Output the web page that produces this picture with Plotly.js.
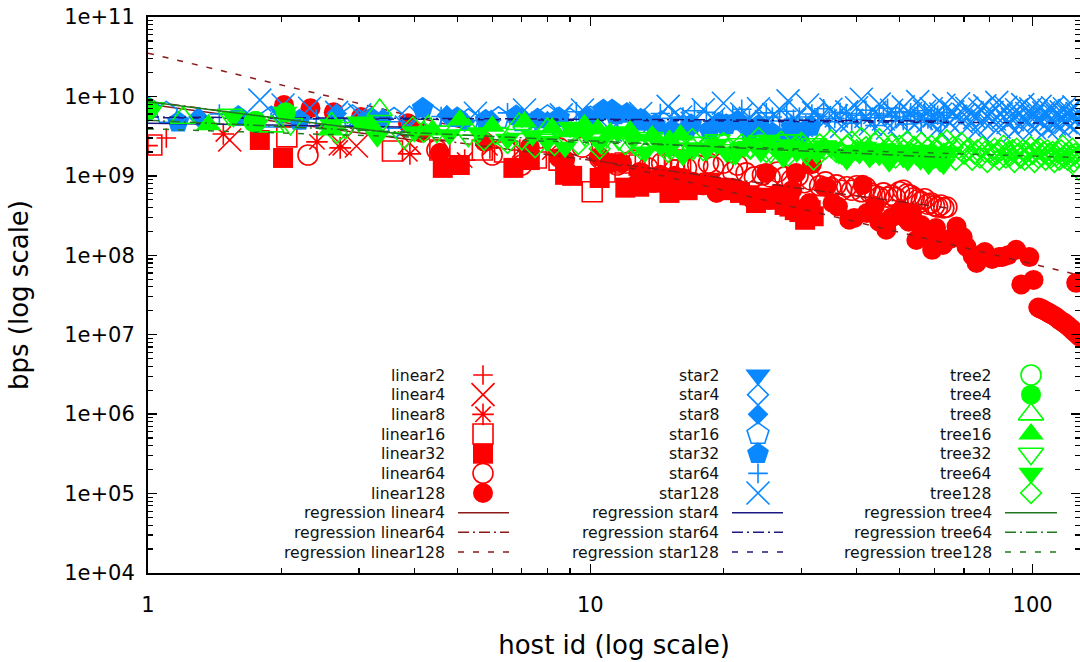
<!DOCTYPE html>
<html><head><meta charset="utf-8">
<script src="https://cdn.plot.ly/plotly-3.0.1.min.js"></script>
<style>html,body{margin:0;padding:0;background:#fff}#chart{width:1080px;height:662px}</style>
</head><body><div id="chart"></div>
<script>
// ---------------- data (host id, bps) ----------------
const linear2_x = [1.0, 1.1];
const linear2_y = [2.4e9, 3.0e9];
const linear4_x = [1.53, 2.72, 2.96, 3.9];
const linear4_y = [2.83e9, 2.52e9, 2.38e9, 2.6e9];
const linear8_x = [1.48, 2.41, 2.72, 3.91, 5.2, 5.93, 6.93, 8.1];
const linear8_y = [3.37e9, 2.68e9, 2.25e9, 1.89e9, 1.58e9, 2.25e9, 2.12e9, 2.0e9];
const linear16_x = [1.02, 2.06, 3.57, 4.57, 5.7, 6.4, 7.55, 8.5, 10.1, 10.8, 12, 12.9, 14, 15, 15.5, 16];
const linear16_y = [2.45e9, 3.1e9, 2.06e9, 2.12e9, 2.12e9, 2.0e9, 1.68e9, 1.58e9, 6.3e8, 1.12e9, 1.45e9, 1.37e9, 1.68e9, 1.37e9, 1.58e9, 1.19e9];
const linear32_x = [1.79, 2.02, 4.64, 5.07, 6.7, 7.3, 8.77, 9.1, 10.5, 12, 12.9, 13.4, 14.4, 15.1, 16.6, 17.7, 18.6, 19.6, 20.7, 21.8, 22.9, 23.7, 25, 26, 27.5, 28.2, 29, 29.7, 30.6, 31, 31.5, 32];
const linear32_y = [2.83e9, 1.68e9, 1.26e9, 1.37e9, 1.26e9, 1.58e9, 1.03e9, 1.0e9, 9.4e8, 7.1e8, 7.3e8, 8.2e8, 8.2e8, 6.1e8, 6.6e8, 7.7e8, 8.2e8, 7.1e8, 6.6e8, 6.1e8, 5.7e8, 4.55e8, 5.3e8, 5.0e8, 4.3e8, 4.1e8, 3.7e8, 3.5e8, 2.8e8, 3.3e8, 3.7e8, 3.1e8];
const linear64_x = [2.3, 4.5, 6.0, 7.0, 8.5, 9.6, 10.5, 11.5, 12.5, 13.5, 14.5, 15.5, 16.5, 17.5, 18.5, 19, 20, 21, 21.5, 22.5, 23.5, 24.5, 25.5, 26.5, 27.5, 28.5, 29.5, 30.5, 31.5, 33, 34, 35, 36, 37, 38, 39, 40, 41, 42, 43, 44, 45, 46, 47, 48, 49, 50, 51, 52, 53, 54, 55, 56, 57, 58, 59, 60, 61, 62, 63, 64];
const linear64_y = [1.83e9, 2.12e9, 1.83e9, 1.37e9, 2.25e9, 2.3e9, 1.68e9, 1.37e9, 1.58e9, 1.26e9, 1.45e9, 1.19e9, 1.26e9, 1.37e9, 1.45e9, 1.3e9, 1.45e9, 1.12e9, 1.37e9, 1.09e9, 9.7e8, 1.03e9, 9.7e8, 1.12e9, 9.7e8, 8.9e8, 1.0e9, 8.2e8, 8.9e8, 7.5e8, 8.4e8, 7.1e8, 7.7e8, 6.6e8, 7.3e8, 6.6e8, 7.5e8, 6.3e8, 7.1e8, 6.1e8, 5.7e8, 5.4e8, 6.1e8, 5.4e8, 5.7e8, 5.3e8, 6.3e8, 6.6e8, 5.9e8, 5.7e8, 5.3e8, 5.0e8, 4.7e8, 5.15e8, 4.4e8, 4.55e8, 4.2e8, 4.05e8, 4.3e8, 3.95e8, 4.05e8];
const linear128_x = [2.03, 2.33, 2.63, 3.03, 3.87, 4.15, 4.57, 5.77, 7.3, 8.5, 8.77, 10.5, 10.9, 11.2, 11.8, 12.9, 13.1, 14.4, 15.5, 16.2, 17.1, 18.0, 19.3, 20.9, 21.8, 22.5, 23.3, 24.2, 25.0, 25.4, 26.5, 27.5, 28.6, 29.2, 30.9, 31.3, 31.7, 33.8, 34.2, 35.3, 36.3, 38.5, 39.5, 41.3, 42.2, 44.0, 45.0, 46.7, 48.0, 50.0, 51.6, 52.5, 53.4, 54.6, 56.0, 57.4, 58.4, 59.3, 60.5, 62.7, 65.0, 67.3, 69.5, 70.9, 73.2, 74.7, 75.8, 78.0, 81.0, 84.1, 85.3, 88.0, 91.8, 94.3, 98.3, 100.5, 125.5,
  103, 104, 105, 106, 107, 108, 109, 110, 111, 112, 113, 114, 115, 116, 117, 118, 119, 120, 121, 122, 123, 124, 125, 126, 127, 128];
const linear128_y = [7.8e9, 7.1e9, 6.3e9, 5.5e9, 4.6e9, 3.5e9, 1.95e9, 2.68e9, 2.3e9, 1.68e9, 1.58e9, 1.73e9, 1.45e9, 1.45e9, 1.45e9, 1.12e9, 1.09e9, 1.03e9, 1.0e9, 9.4e8, 8.4e8, 7.6e8, 6.1e8, 7.1e8, 6.6e8, 5.6e8, 5.0e8, 5.3e8, 1.09e9, 5.0e8, 6.0e8, 5.0e8, 6.6e8, 1.09e9, 4.1e8, 4.55e8, 1.4e9, 7.3e8, 7.3e8, 4.55e8, 4.1e8, 2.8e8, 2.95e8, 7.7e8, 3.4e8, 4.2e8, 2.65e8, 2.1e8, 3.0e8, 3.5e8, 2.95e8, 2.65e8, 3.4e8, 1.56e8, 2.4e8, 1.9e8, 1.7e8, 1.17e8, 2.2e8, 1.35e8, 1.6e8, 2.3e8, 1.7e8, 1.28e8, 9.8e7, 8.0e7, 1.0e8, 1.1e8, 9.0e7, 9.5e7, 9.5e7, 1.0e8, 1.17e8, 4.3e7, 9.5e7, 4.9e7, 4.5e7,
  2.2e7, 2.15e7, 2.1e7, 2.04e7, 1.98e7, 1.93e7, 1.87e7, 1.82e7, 1.77e7, 1.72e7, 1.67e7, 1.6e7, 1.53e7, 1.49e7, 1.45e7, 1.4e7, 1.35e7, 1.3e7, 1.25e7, 1.2e7, 1.15e7, 1.1e7, 1.06e7, 1.02e7, 9.8e6, 9.4e6];

const star2_x = [1.0, 2.0];
const star2_y = [7.1e9, 6.3e9];
const star4_x = [1.0, 2.0, 3.0, 3.9];
const star4_y = [6.6e9, 6.0e9, 5.0e9, 5.6e9];
const star8_x = [1.3, 2.67, 3.4, 4.74, 5.2, 5.97, 7.0, 8.0];
const star8_y = [5.5e9, 6.1e9, 5.3e9, 5.8e9, 4.8e9, 5.05e9, 5.4e9, 4.9e9];
const star16_x = [1.1, 1.9, 2.9, 3.6, 4.4, 5.3, 6.2, 7.0, 8.0, 9.0, 10.0, 11.0, 12.0, 13.0, 14.5, 16.0];
const star16_y = [6.2e9, 5.4e9, 5.6e9, 5.2e9, 5.5e9, 5.0e9, 5.3e9, 4.9e9, 5.6e9, 5.1e9, 5.4e9, 4.8e9, 5.2e9, 5.0e9, 4.7e9, 5.1e9];
const star32_x = [1.0, 1.17, 1.6, 2.2, 3.2, 4.18, 5.0, 5.8, 6.8, 7.6, 8.5, 9.85, 10.7, 11.2, 11.4, 12.1, 13.0, 14.0, 15.3, 16.5, 16.9, 18.6, 19.5, 20.3, 21.5, 22.9, 24.0, 25.8, 27.3, 28.5, 29.7, 31.5];
const star32_y = [7.3e9, 4.75e9, 5.6e9, 5.0e9, 5.3e9, 7.1e9, 5.4e9, 5.0e9, 5.7e9, 5.2e9, 5.4e9, 5.5e9, 6.75e9, 6.75e9, 5.85e9, 6.1e9, 4.9e9, 4.4e9, 3.78e9, 3.78e9, 4.4e9, 3.78e9, 4.6e9, 4.4e9, 4.9e9, 3.78e9, 4.3e9, 3.47e9, 2.83e9, 4.0e9, 3.1e9, 4.2e9];
const star64_x = [1.45, 2.4, 3.5, 4.6, 5.6, 6.5, 7.5, 8.4, 9.3, 10.3, 11.3, 12.3, 13.3, 14.4, 15.3, 16.2, 17.2, 18.3, 19.1, 19.9, 21, 22, 22.9, 24, 25, 25.8, 26.8, 27.8, 28.8, 29.7, 30.7, 31.7, 32.7, 33.7, 34.7, 35.7, 36.7, 37.9, 39, 40, 41, 42, 43, 44, 45, 46, 47, 48, 49, 50, 51, 52, 53, 54, 55, 56, 57, 58, 59, 60, 61, 62, 63, 64];
const star64_y = [6.0e9, 5.2e9, 4.8e9, 5.6e9, 5.0e9, 6.2e9, 4.6e9, 5.5e9, 6.4e9, 5.1e9, 6.8e9, 5.9e9, 4.9e9, 6.1e9, 5.3e9, 5.5e9, 6.6e9, 6.3e9, 4.7e9, 5.05e9, 5.8e9, 6.9e9, 5.05e9, 4.5e9, 6.2e9, 5.5e9, 4.9e9, 6.5e9, 5.2e9, 5.5e9, 4.4e9, 6.0e9, 5.6e9, 7.0e9, 4.8e9, 5.3e9, 6.3e9, 6.1e9, 4.6e9, 5.8e9, 5.1e9, 6.7e9, 5.4e9, 4.3e9, 6.0e9, 5.7e9, 7.1e9, 4.9e9, 5.5e9, 6.4e9, 5.0e9, 4.5e9, 6.2e9, 5.6e9, 5.9e9, 4.7e9, 6.6e9, 5.2e9, 5.0e9, 6.1e9, 5.8e9, 4.6e9, 6.3e9, 5.4e9];
const star128_x = [1.79, 2.02, 2.32, 2.67, 3.01, 3.84, 5.5, 7.1, 7.8, 8.6, 9.6, 11.1,
  13, 14, 15, 16, 17, 18, 19, 20, 21, 22, 23, 24, 25, 26, 27, 28, 29, 30, 31, 32,
  33, 34, 35, 36, 37, 38, 39, 40, 41, 42, 43, 44, 45, 46, 47, 48, 49, 50, 51, 52,
  53, 54, 55, 56, 57, 58, 59, 60, 61, 62, 63, 64, 65, 66, 67, 68, 69, 70, 71, 72,
  73, 74, 75, 76, 77, 78, 79, 80, 81, 82, 83, 84, 85, 86, 87, 88, 89, 90, 91, 92,
  93, 94, 95, 96, 97, 98, 99, 100, 101, 102, 103, 104, 105, 106, 107, 108, 109, 110, 111, 112,
  113, 114, 115, 116, 117, 118, 119, 120, 121, 122, 123, 124, 125, 126, 127, 128];
const star128_y = [9.0e9, 7.8e9, 7.1e9, 6.3e9, 5.85e9, 4.1e9, 6.15e9, 6.75e9, 4.6e9, 5.85e9, 6.75e9, 3.78e9,
  6.1e9, 5.0e9, 7.5e9, 5.5e9, 4.6e9, 6.8e9, 5.2e9, 8.2e9, 4.4e9, 6.0e9, 5.3e9, 7.0e9, 4.8e9, 5.9e9, 6.6e9, 8.8e9, 5.1e9, 4.3e9, 7.8e9, 6.2e9,
  5.4e9, 4.9e9, 6.9e9, 5.7e9, 4.2e9, 6.4e9, 5.0e9, 7.2e9, 9.2e9, 5.6e9, 4.5e9, 6.3e9, 8.0e9, 5.2e9, 4.0e9, 6.7e9, 5.8e9, 4.7e9, 7.4e9, 5.5e9,
  6.1e9, 4.4e9, 8.6e9, 5.3e9, 6.5e9, 4.9e9, 7.0e9, 5.7e9, 3.9e9, 6.0e9, 7.7e9, 5.1e9, 4.6e9, 6.4e9, 5.6e9, 8.1e9, 4.8e9, 5.9e9, 7.1e9, 4.3e9,
  6.2e9, 5.4e9, 3.8e9, 6.9e9, 5.0e9, 7.6e9, 5.7e9, 4.5e9, 6.3e9, 5.2e9, 8.4e9, 4.1e9, 6.0e9, 5.5e9, 7.3e9, 4.7e9, 6.6e9, 5.1e9, 3.7e9, 6.8e9,
  5.8e9, 4.4e9, 7.9e9, 5.3e9, 6.1e9, 4.6e9, 7.0e9, 5.6e9, 4.0e9, 6.5e9, 5.0e9, 7.5e9, 4.8e9, 6.2e9, 5.4e9, 3.9e9, 6.7e9, 5.2e9, 7.2e9, 4.5e9,
  6.0e9, 5.7e9, 4.2e9, 6.4e9, 5.1e9, 7.0e9, 4.7e9, 5.9e9, 6.6e9, 4.3e9, 5.5e9, 7.4e9, 4.9e9, 6.1e9, 5.3e9, 4.6e9];

const tree2_x = [1.0, 1.75];
const tree2_y = [7.0e9, 4.8e9];
const tree4_x = [1.0, 1.73, 1.75, 2.05];
const tree4_y = [7.0e9, 4.75e9, 4.9e9, 6.3e9];
const tree8_x = [1.2, 1.9, 2.6, 3.34, 4.3, 5.3, 6.9, 8.0];
const tree8_y = [5.4e9, 4.2e9, 4.6e9, 6.75e9, 4.2e9, 3.8e9, 4.5e9, 3.9e9];
const tree16_x = [1.37, 2.58, 3.2, 4.4, 5.07, 6.0, 7.1, 8.2, 9.0, 9.7, 10.4, 11.1, 12.3, 13.8, 15.1, 16];
const tree16_y = [4.4e9, 3.78e9, 4.3e9, 3.78e9, 5.05e9, 4.2e9, 4.75e9, 4.0e9, 3.6e9, 4.4e9, 3.9e9, 3.47e9, 3.7e9, 3.18e9, 2.83e9, 3.27e9];
const tree32_x = [1.02, 1.53, 2.1, 2.8, 3.3, 3.8, 4.5, 5.3, 6.1, 7.0, 7.9, 8.8, 9.7, 10.6, 11.6, 12.6, 13.7, 14.8, 15.9, 17.0, 18.2, 19.4, 20.6, 21.8, 23.0, 24.3, 25.6, 26.9, 28.2, 29.5, 30.8, 32];
const tree32_y = [7.1e9, 5.85e9, 4.5e9, 4.0e9, 4.1e9, 3.0e9, 3.6e9, 3.2e9, 3.4e9, 2.9e9, 3.1e9, 2.7e9, 3.3e9, 2.6e9, 2.9e9, 2.5e9, 3.0e9, 2.4e9, 2.7e9, 2.2e9, 2.6e9, 2.8e9, 2.1e9, 2.5e9, 2.3e9, 2.7e9, 2.0e9, 2.4e9, 2.8e9, 2.2e9, 1.9e9, 2.5e9];
const tree64_x = [1.0, 1.56, 2.04, 2.6, 3.0, 3.3, 4.0, 4.8, 5.6, 6.5, 7.4, 8.0, 8.77, 9.0, 9.8, 10.5, 11.5, 12.5, 13.3, 14.4, 15.1, 16.2, 17.2, 18.3, 19.3, 20.3, 21.3, 22.3, 23.3, 24.3, 25.3, 26.3, 27.3, 28.3, 29.3, 30.3, 31.3, 32.5, 33.8, 35, 36.5, 38, 39.5, 40.6, 41.7, 42.8, 43.9, 45, 46.2, 47.4, 48.6, 49.8, 51, 52.2, 53.4, 54.6, 55.8, 57, 58.2, 59.4, 60.6, 61.8, 62.9, 64];
const tree64_y = [6.5e9, 5.5e9, 6.3e9, 4.4e9, 4.75e9, 3.1e9, 3.6e9, 3.3e9, 3.5e9, 2.9e9, 3.2e9, 2.7e9, 2.3e9, 4.1e9, 3.5e9, 2.6e9, 3.6e9, 2.9e9, 2.0e9, 2.4e9, 2.2e9, 1.8e9, 2.2e9, 2.1e9, 2.5e9, 2.0e9, 1.85e9, 2.3e9, 2.6e9, 2.0e9, 2.8e9, 2.3e9, 1.7e9, 2.4e9, 2.0e9, 2.2e9, 2.1e9, 1.9e9, 2.4e9, 2.25e9, 1.9e9, 1.6e9, 2.1e9, 1.9e9, 2.3e9, 1.7e9, 2.0e9, 1.8e9, 2.2e9, 1.5e9, 1.9e9, 2.1e9, 1.7e9, 1.55e9, 2.0e9, 1.8e9, 1.6e9, 2.1e9, 1.4e9, 1.9e9, 1.7e9, 1.5e9, 1.4e9, 2.0e9];
const tree128_x = [2.67, 3.97, 4.2, 5.75, 6.5, 7.5, 8.3, 9.4, 10.5,
  12, 13, 14, 15, 16, 17, 18, 19, 20, 21, 22, 23, 24, 25, 26, 27, 28, 29, 30, 31,
  32, 33, 34, 35, 36, 37, 38, 39, 40, 41, 42, 43, 44, 45, 46, 47, 48, 49, 50, 51,
  52, 53, 54, 55, 56, 57, 58, 59, 60, 61, 62, 63, 64, 65, 66, 67, 68, 69, 70, 71,
  72, 73, 74, 75, 76, 77, 78, 79, 80, 81, 82, 83, 84, 85, 86, 87, 88, 89, 90, 91,
  92, 93, 94, 95, 96, 97, 98, 99, 100, 101, 102, 103, 104, 105, 106, 107, 108, 109, 110, 111,
  112, 113, 114, 115, 116, 117, 118, 119, 120, 121, 122, 123, 124, 125, 126, 127, 128];
const tree128_y = [3.47e9, 4.1e9, 3.57e9, 2.83e9, 2.6e9, 2.3e9, 2.45e9, 2.52e9, 2.2e9,
  2.5e9, 2.2e9, 2.8e9, 2.0e9, 2.4e9, 2.9e9, 2.1e9, 2.3e9, 2.6e9, 1.9e9, 2.5e9, 2.2e9, 3.0e9, 2.0e9, 2.4e9, 2.7e9, 1.8e9, 2.3e9, 2.6e9, 2.1e9,
  1.6e9, 2.5e9, 2.2e9, 2.8e9, 2.0e9, 1.9e9, 2.4e9, 2.7e9, 2.1e9, 3.0e9, 2.3e9, 1.8e9, 2.6e9, 2.9e9, 2.0e9, 2.2e9, 2.5e9, 1.7e9, 2.4e9, 2.1e9,
  2.7e9, 1.9e9, 2.3e9, 2.0e9, 2.6e9, 1.8e9, 2.2e9, 2.4e9, 1.7e9, 2.1e9, 2.5e9, 1.9e9, 2.8e9, 2.0e9, 2.3e9, 1.6e9, 2.2e9, 2.6e9, 1.9e9, 2.1e9,
  2.2e9, 1.6e9, 1.9e9, 2.1e9, 1.7e9, 2.3e9, 2.0e9, 1.5e9, 2.0e9, 1.8e9, 2.2e9, 1.9e9, 1.6e9, 2.1e9, 2.4e9, 1.7e9, 2.0e9, 1.8e9, 2.1e9, 1.5e9,
  2.2e9, 1.9e9, 1.7e9, 2.1e9, 1.6e9, 2.0e9, 1.8e9, 2.3e9, 1.9e9, 1.5e9, 2.1e9, 1.7e9, 2.2e9, 1.8e9, 2.0e9, 1.6e9, 2.1e9, 1.9e9, 1.7e9, 2.0e9,
  1.5e9, 1.8e9, 2.0e9, 1.6e9, 2.1e9, 2.4e9, 1.7e9, 1.9e9, 1.6e9, 2.0e9, 1.8e9, 2.2e9, 1.5e9, 1.9e9, 1.7e9, 1.2e9, 1.8e9];

// regression fits (end points of each fitted power law over its host range)
const regLinear4_x = [1, 4],    regLinear4_y = [8.0e9, 2.8e9];
const regLinear64_x = [1, 64],  regLinear64_y = [8.7e9, 3.95e8];
const regLinear128_x = [1, 128], regLinear128_y = [3.5e10, 5.6e7];
const regStar4_x = [1, 4],      regStar4_y = [4.6e9, 4.1e9];
const regStar64_x = [1, 64],    regStar64_y = [5.5e9, 4.9e9];
const regStar128_x = [1, 128],  regStar128_y = [5.4e9, 4.6e9];
const regTree4_x = [1, 4],      regTree4_y = [8.6e9, 3.2e9];
const regTree64_x = [1, 64],    regTree64_y = [5.0e9, 1.7e9];
const regTree128_x = [1, 128],  regTree128_y = [3.9e9, 1.7e9];

const xTickVals = [1, 10, 100];
const xTickText = ['1', '10', '100'];
const yTickVals = [1e4, 1e5, 1e6, 1e7, 1e8, 1e9, 1e10, 1e11];
const yTickText = ['1e+04', '1e+05', '1e+06', '1e+07', '1e+08', '1e+09', '1e+10', '1e+11'];

// ---------------- styles ----------------
const FONT = 'DejaVu Sans, sans-serif';
const RED = '#ff0000', BLUE = '#0a88ff', GREEN = '#00ff00';
const DRED = '#8b1a1a', DBLUE = '#1a1a80', DGREEN = '#1f7a1f';
const DASH_SOLID = 'solid', DASH_DOT = '11px,4px,2px,4px', DASH_DASH = '6px,9px';

const groups = [
  { color: RED, reg: DRED, markers: [
      ['linear2', linear2_x, linear2_y, 'cross-thin-open', 14],
      ['linear4', linear4_x, linear4_y, 'x-thin-open', 23],
      ['linear8', linear8_x, linear8_y, 'asterisk-open', 18],
      ['linear16', linear16_x, linear16_y, 'square-open', 20],
      ['linear32', linear32_x, linear32_y, 'square', 20],
      ['linear64', linear64_x, linear64_y, 'circle-open', 20],
      ['linear128', linear128_x, linear128_y, 'circle', 20]],
    regs: [
      ['regression linear4', regLinear4_x, regLinear4_y, DASH_SOLID],
      ['regression linear64', regLinear64_x, regLinear64_y, DASH_DOT],
      ['regression linear128', regLinear128_x, regLinear128_y, DASH_DASH]] },
  { color: BLUE, reg: DBLUE, markers: [
      ['star2', star2_x, star2_y, 'triangle-down', 22],
      ['star4', star4_x, star4_y, 'diamond-open', 16],
      ['star8', star8_x, star8_y, 'diamond', 16],
      ['star16', star16_x, star16_y, 'pentagon-open', 23],
      ['star32', star32_x, star32_y, 'pentagon', 23],
      ['star64', star64_x, star64_y, 'cross-thin-open', 14],
      ['star128', star128_x, star128_y, 'x-thin-open', 23]],
    regs: [
      ['regression star4', regStar4_x, regStar4_y, DASH_SOLID],
      ['regression star64', regStar64_x, regStar64_y, DASH_DOT],
      ['regression star128', regStar128_x, regStar128_y, DASH_DASH]] },
  { color: GREEN, reg: DGREEN, markers: [
      ['tree2', tree2_x, tree2_y, 'circle-open', 20],
      ['tree4', tree4_x, tree4_y, 'circle', 20],
      ['tree8', tree8_x, tree8_y, 'triangle-up-open', 22],
      ['tree16', tree16_x, tree16_y, 'triangle-up', 22],
      ['tree32', tree32_x, tree32_y, 'triangle-down-open', 22],
      ['tree64', tree64_x, tree64_y, 'triangle-down', 22],
      ['tree128', tree128_x, tree128_y, 'diamond-open', 16]],
    regs: [
      ['regression tree4', regTree4_x, regTree4_y, DASH_SOLID],
      ['regression tree64', regTree64_x, regTree64_y, DASH_DOT],
      ['regression tree128', regTree128_x, regTree128_y, DASH_DASH]] }
];

// key layout (pixel frame of the plot area)
const KEY = { row0: 375, rowStep: 19.67, textRight: [447, 721, 994], sym: [483, 758, 1031], line0: [458, 732, 1005], line1: [509, 783, 1057] };

function isOpen(sym) { return /open/.test(sym); }

const traces = [];
const annotations = [];
groups.forEach((g, c) => {
  g.markers.forEach(m => {
    const open = isOpen(m[3]);
    traces.push({ type: 'scatter', mode: 'markers', name: m[0], x: m[1], y: m[2], hoverinfo: 'skip',
      marker: { symbol: m[3], size: m[4], color: g.color, line: { color: g.color, width: open ? 1.6 : 0 } } });
  });
  g.regs.forEach(r => {
    traces.push({ type: 'scatter', mode: 'lines', name: r[0], x: r[1], y: r[2], hoverinfo: 'skip',
      line: { color: g.reg, width: 1.5, dash: r[3] } });
  });
});

// key entries
groups.forEach((g, c) => {
  const items = g.markers.concat(g.regs);
  items.forEach((it, i) => {
    const yy = KEY.row0 + i * KEY.rowStep;
    annotations.push({ xref: 'x2', yref: 'y2', x: KEY.textRight[c], y: yy, text: it[0], showarrow: false,
      xanchor: 'right', yanchor: 'middle', font: { family: FONT, size: 15.7, color: '#111' } });
    if (i < g.markers.length) {
      const open = isOpen(it[3]);
      traces.push({ type: 'scatter', mode: 'markers', xaxis: 'x2', yaxis: 'y2', x: [KEY.sym[c]], y: [yy], hoverinfo: 'skip', cliponaxis: false,
        marker: { symbol: it[3], size: it[4], color: g.color, line: { color: g.color, width: open ? 1.6 : 0 } } });
    } else {
      traces.push({ type: 'scatter', mode: 'lines', xaxis: 'x2', yaxis: 'y2', x: [KEY.line0[c], KEY.line1[c]], y: [yy, yy], hoverinfo: 'skip',
        line: { color: g.reg, width: 1.5, dash: it[3] } });
    }
  });
});

const axisCommon = {
  type: 'log', showline: true, linecolor: '#000', linewidth: 2, mirror: 'allticks',
  ticks: 'inside', ticklen: 9, tickwidth: 1.5, tickcolor: '#000', showgrid: false, zeroline: false,
  tickmode: 'array', tickfont: { family: FONT, size: 21, color: '#000' },
  minor: { ticks: 'inside', ticklen: 5, tickwidth: 1.2, tickcolor: '#000', dtick: 'D1', showgrid: false }
};

const layout = {
  width: 1080, height: 662,
  margin: { l: 148, r: 0, t: 17, b: 89 },
  paper_bgcolor: '#fff', plot_bgcolor: '#fff',
  showlegend: false,
  font: { family: FONT, color: '#000' },
  xaxis: Object.assign({}, axisCommon, {
    range: [0, Math.log10(128)], tickvals: xTickVals, ticktext: xTickText, ticklabelstandoff: 12,
    title: { text: 'host id (log scale)', font: { family: FONT, size: 26, color: '#000' }, standoff: 20 } }),
  yaxis: Object.assign({}, axisCommon, {
    range: [4, 11], tickvals: yTickVals, ticktext: yTickText, ticklabelstandoff: 7,
    title: { text: 'bps (log scale)', font: { family: FONT, size: 26, color: '#000' }, standoff: 28 } }),
  xaxis2: { overlaying: 'x', anchor: 'y2', range: [148, 1080], visible: false, fixedrange: true },
  yaxis2: { overlaying: 'y', anchor: 'x2', range: [573, 17], visible: false, fixedrange: true },
  annotations: annotations
};

Plotly.newPlot('chart', traces, layout, { staticPlot: true, displayModeBar: false });
</script></body></html>
